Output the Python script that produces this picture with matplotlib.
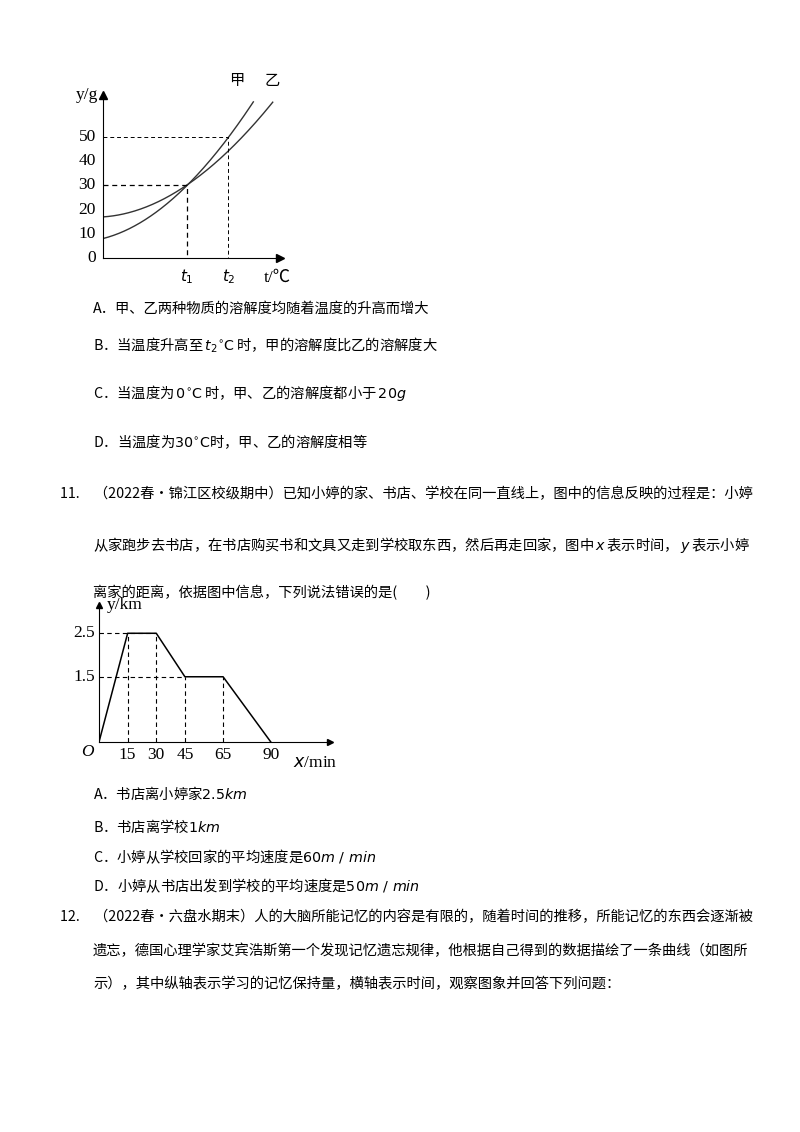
import numpy as np
import matplotlib
matplotlib.use("Agg")
import matplotlib.pyplot as plt

plt.rcParams['font.family'] = ['Noto Sans CJK SC', 'DejaVu Sans']
SERIF = ['Liberation Serif', 'Noto Sans CJK SC']

# ---- chart 1 data (solubility) ----
t_jia = [0, 10, 20, 30, 34.7, 40, 51.7, 62]
y_jia = [8, 11.8, 17.6, 25.5, 30, 35.6, 50, 64.5]
t_yi = [0, 10, 20, 30, 34.7, 40, 51.7, 60, 70]
y_yi = [17, 18.6, 22, 27, 30, 34.8, 44, 52.7, 64.5]
t1, t2 = 34.7, 51.7
yticks1 = [0, 10, 20, 30, 40, 50]

# ---- chart 2 data (distance) ----
x_walk = [0, 15, 30, 45, 65, 90]
y_walk = [0, 2.5, 2.5, 1.5, 1.5, 0]
xticks2 = [15, 30, 45, 65, 90]
yticks2 = [1.5, 2.5]

fig = plt.figure(figsize=(8, 11.32), dpi=100)
bg = fig.add_axes([0, 0, 1, 1])
bg.set_xlim(0, 800); bg.set_ylim(1132, 0); bg.axis('off')

def ax_at(x0, y0, x1, y1):
    return fig.add_axes([x0/800, 1-y1/1132, (x1-x0)/800, (y1-y0)/1132])

TFS = 12.5

# chart 1
a1 = ax_at(103, 95, 280, 258)
a1.set_xlim(0, 73); a1.set_ylim(0, 67.4)
for s in ['top', 'right']:
    a1.spines[s].set_visible(False)
a1.set_xticks([]); a1.set_yticks([])
a1.patch.set_alpha(0)
a1.plot([73], [0], marker='>', color='k', ms=6, clip_on=False)
a1.plot([0], [67.4], marker='^', color='k', ms=6, clip_on=False)
cj = np.polyfit(t_jia, y_jia, 3); cy = np.polyfit(t_yi, y_yi, 3)
xs = np.linspace(0, t_jia[-1], 200); a1.plot(xs, np.polyval(cj, xs), color='#333', lw=1)
xs = np.linspace(0, t_yi[-1], 200); a1.plot(xs, np.polyval(cy, xs), color='#333', lw=1)
a1.plot([0, t1, t1], [30, 30, 0], 'k--', lw=0.9, dashes=(4, 3))
a1.plot([0, t2, t2], [50, 50, 0], 'k--', lw=0.7, dashes=(4, 3))
for v in yticks1:
    a1.text(-3, v, str(v), ha='right', va='center', fontsize=TFS, family=SERIF)
a1.text(t1, -4, '$t_1$', ha='center', va='top', fontsize=11)
a1.text(t2, -4, '$t_2$', ha='center', va='top', fontsize=11)
a1.text(72, -5, 't/℃', ha='center', va='top', fontsize=TFS, family=SERIF)
a1.text(-2, 67.4, 'y/g', ha='right', va='center', fontsize=TFS, family=SERIF)
a1.text(55, 70, '甲', ha='center', va='bottom', fontsize=11)
a1.text(70, 70, '乙', ha='center', va='bottom', fontsize=11)

# chart 2
a2 = ax_at(99, 605, 330, 742)
a2.set_xlim(0, 121); a2.set_ylim(0, 3.15)
for s in ['top', 'right']:
    a2.spines[s].set_visible(False)
a2.set_xticks([]); a2.set_yticks([])
a2.patch.set_alpha(0)
a2.plot([121], [0], marker='>', color='k', ms=5, clip_on=False)
a2.plot([0], [3.15], marker='^', color='k', ms=5, clip_on=False)
a2.plot(x_walk, y_walk, color='k', lw=1.1)
for i in range(1, 5):
    a2.plot([x_walk[i]]*2, [0, y_walk[i]], 'k--', lw=0.8, dashes=(4, 3))
a2.plot([0, 30], [2.5, 2.5], 'k--', lw=0.8, dashes=(4, 3))
a2.plot([0, 45], [1.5, 1.5], 'k--', lw=0.8, dashes=(4, 3))
for v in xticks2:
    a2.text(v, -0.12, str(v), ha='center', va='top', fontsize=TFS, family=SERIF)
for v in yticks2:
    a2.text(-2, v, str(v), ha='right', va='center', fontsize=TFS, family=SERIF)
a2.text(-3, -0.05, 'O', ha='right', va='top', fontsize=TFS, style='italic', family=SERIF)
a2.text(4, 3.15, 'y/km', ha='left', va='center', fontsize=TFS, family=SERIF)
a2.text(113, -0.3, '$x$/min', ha='center', va='top', fontsize=TFS, family=SERIF)

fs = 10.3
lines = [
    (93, 309, 'A．甲、乙两种物质的溶解度均随着温度的升高而增大'),
    (93, 345, r'B．当温度升高至$\,t_2{}^{\circ}\mathrm{C}\,$时，甲的溶解度比乙的溶解度大'),
    (93, 393, r'C．当温度为$\,0^{\circ}\mathrm{C}\,$时，甲、乙的溶解度都小于$\,20g$'),
    (93, 442, r'D．当温度为$30^{\circ}\mathrm{C}$时，甲、乙的溶解度相等'),
    (60, 494, '11.　（2022春•锦江区校级期中）已知小婷的家、书店、学校在同一直线上，图中的信息反映的过程是：小婷'),
    (93, 545, r'从家跑步去书店，在书店购买书和文具又走到学校取东西，然后再走回家，图中$\,x\,$表示时间，$\,y\,$表示小婷'),
    (93, 593, '离家的距离，依据图中信息，下列说法错误的是(　　)'),
    (93, 793, r'A．书店离小婷家$2.5km$'),
    (93, 826, r'B．书店离学校$1km$'),
    (93, 857, r'C．小婷从学校回家的平均速度是$60m\ /\ min$'),
    (93, 886, r'D．小婷从书店出发到学校的平均速度是$50m\ /\ min$'),
    (60, 917, '12.　（2022春•六盘水期末）人的大脑所能记忆的内容是有限的，随着时间的推移，所能记忆的东西会逐渐被'),
    (93, 951, '遗忘，德国心理学家艾宾浩斯第一个发现记忆遗忘规律，他根据自己得到的数据描绘了一条曲线（如图所'),
    (93, 984, '示），其中纵轴表示学习的记忆保持量，横轴表示时间，观察图象并回答下列问题：'),
]
for x, y, s in lines:
    bg.text(x, y, s, ha='left', va='center', fontsize=fs)

fig.savefig('out.png', dpi=100)
